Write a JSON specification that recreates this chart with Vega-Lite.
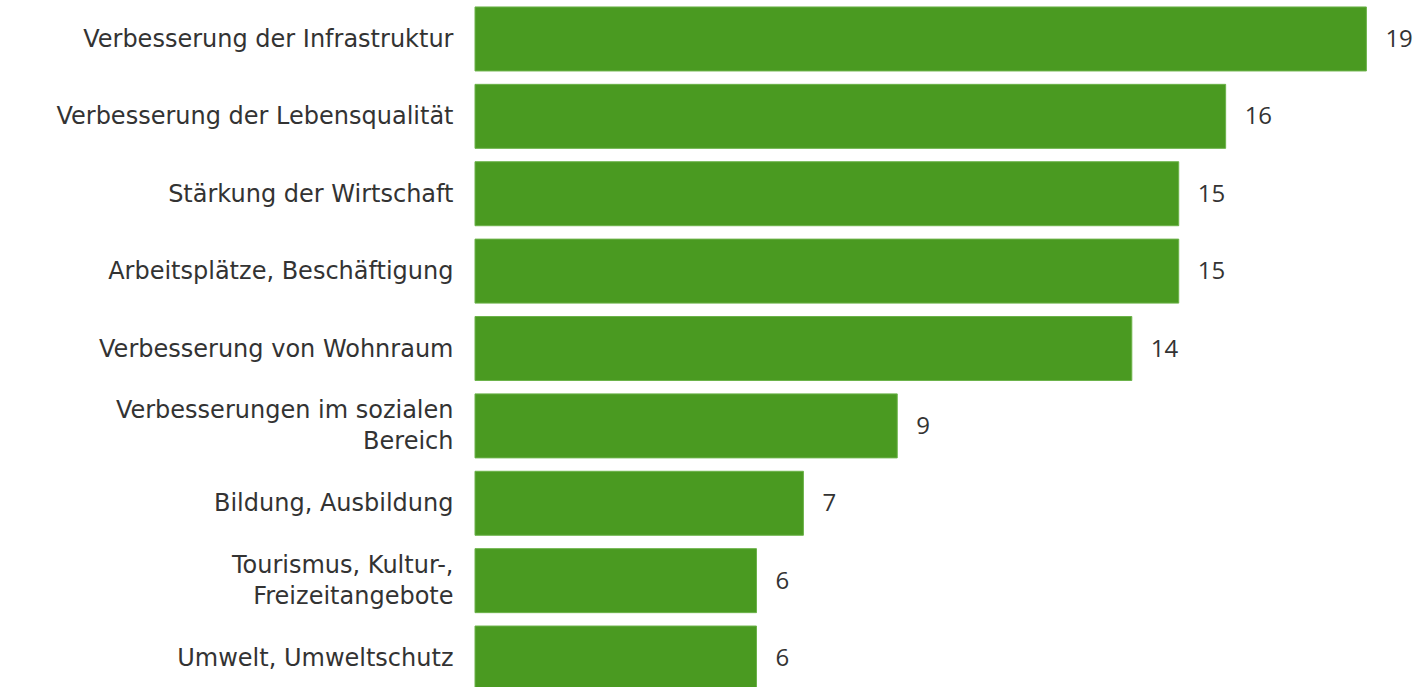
{
  "$schema": "https://vega.github.io/schema/vega-lite/v6.json",
  "autosize": "none",
  "width": 943,
  "height": 687,
  "padding": {"left": 475, "top": 0, "right": 0, "bottom": 0},
  "background": "white",
  "config": {"view": {"stroke": null}},
  "data": {
    "values": [
      {"label": "Verbesserung der Infrastruktur", "value": 19},
      {"label": "Verbesserung der Lebensqualität", "value": 16},
      {"label": "Stärkung der Wirtschaft", "value": 15},
      {"label": "Arbeitsplätze, Beschäftigung", "value": 15},
      {"label": "Verbesserung von Wohnraum", "value": 14},
      {"label": "Verbesserungen im sozialen|Bereich", "value": 9},
      {"label": "Bildung, Ausbildung", "value": 7},
      {"label": "Tourismus, Kultur-,|Freizeitangebote", "value": 6},
      {"label": "Umwelt, Umweltschutz", "value": 6}
    ]
  },
  "encoding": {
    "y": {
      "field": "label",
      "type": "nominal",
      "sort": null,
      "scale": {"range": [0, 697], "paddingInner": 0.173, "paddingOuter": 0.09},
      "axis": {
        "title": null,
        "ticks": false,
        "domain": false,
        "labelPadding": 22,
        "labelFont": "DejaVu Sans",
        "labelFontSize": 24,
        "labelColor": "#333333",
        "labelLimit": 0,
        "labelLineHeight": 31,
        "labelOffset": {"condition": {"test": "indexof(datum.value, '|') >= 0", "value": -15}, "value": 1},
        "labelExpr": "split(datum.label, '|')"
      }
    },
    "x": {
      "field": "value",
      "type": "quantitative",
      "scale": {"domain": [0, 20.1], "nice": false},
      "axis": null
    }
  },
  "layer": [
    {"mark": {"type": "bar", "color": "#4a9a21", "stroke": "#6cb34a", "strokeWidth": 1}},
    {
      "mark": {"type": "text", "align": "left", "baseline": "middle", "dx": 19, "dy": 1, "font": "Open Sans", "fontSize": 24, "color": "#333333"},
      "encoding": {"text": {"field": "value", "type": "quantitative"}}
    }
  ]
}
